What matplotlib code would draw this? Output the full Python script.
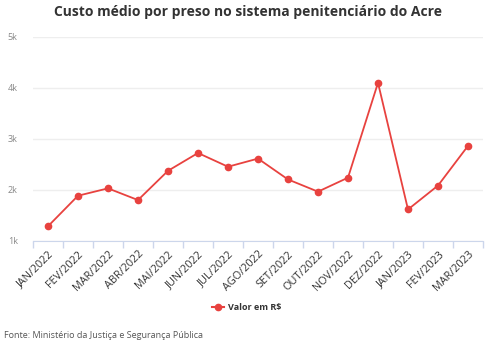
import matplotlib
matplotlib.use("Agg")
import matplotlib.pyplot as plt
import numpy as np

categories = ["JAN/2022", "FEV/2022", "MAR/2022", "ABR/2022", "MAI/2022", "JUN/2022",
              "JUL/2022", "AGO/2022", "SET/2022", "OUT/2022", "NOV/2022", "DEZ/2022",
              "JAN/2023", "FEV/2023", "MAR/2023"]
values = [1280, 1880, 2025, 1795, 2370, 2720, 2450, 2610, 2200, 1960, 2235, 4100, 1610, 2080, 2860]
y_ticks = [1000, 2000, 3000, 4000, 5000]
y_labels = ["1k", "2k", "3k", "4k", "5k"]

plt.rcParams['font.family'] = ['Open Sans', 'DejaVu Sans']

fig = plt.figure(figsize=(4.97, 3.52), dpi=100)
ax = fig.add_axes([33/497, 1-240.5/352, 450/497, (240.5-37)/352])

x = np.arange(len(categories))
ax.plot(x, values, color="#e8423f", lw=1.3, marker="o", ms=4.5, zorder=3, clip_on=False)

ax.set_xlim(-0.5, len(categories) - 0.5)
ax.set_ylim(1000, 5000)
ax.set_yticks(y_ticks)
ax.set_yticklabels(y_labels)
ax.grid(axis="y", color="#eeeeee", lw=1)
ax.set_axisbelow(True)
ax.tick_params(axis="y", length=0, labelsize=6.5, labelcolor="#888888", pad=11)

ax.set_xticks(x)
ax.set_xticklabels(categories, rotation=45, ha="right", rotation_mode="anchor",
                   fontsize=7.8, color="#333333")
ax.tick_params(axis="x", which="major", length=0, pad=6)
ax.set_xticks(np.arange(-0.5, len(categories)), minor=True)
ax.tick_params(axis="x", which="minor", length=5, color="#ccd6eb", width=1)

for s in ["top", "right", "left"]:
    ax.spines[s].set_visible(False)
ax.spines["bottom"].set_color("#ccd6eb")

fig.text(0.5, 1-12/352, "Custo médio por preso no sistema penitenciário do Acre",
         ha="center", va="center", fontsize=10, fontweight="bold", color="#333333")

# legend
lx, ly = 218/497, 1-307/352
fig.add_artist(plt.Line2D([lx-6/497, lx+6/497], [ly, ly], color="#e8423f", lw=1.5,
                          transform=fig.transFigure))
fig.add_artist(plt.Line2D([lx], [ly], color="#e8423f", marker="o", ms=4.5,
                          transform=fig.transFigure))
fig.text(lx + 10/497, ly, "Valor em R$", ha="left", va="center", fontsize=6.5,
         fontweight="bold", color="#333333")

fig.text(4/497, 1-335/352, "Fonte: Ministério da Justiça e Segurança Pública",
         ha="left", va="center", fontsize=6.5, color="#555555")

fig.savefig("out.png", dpi=100)
